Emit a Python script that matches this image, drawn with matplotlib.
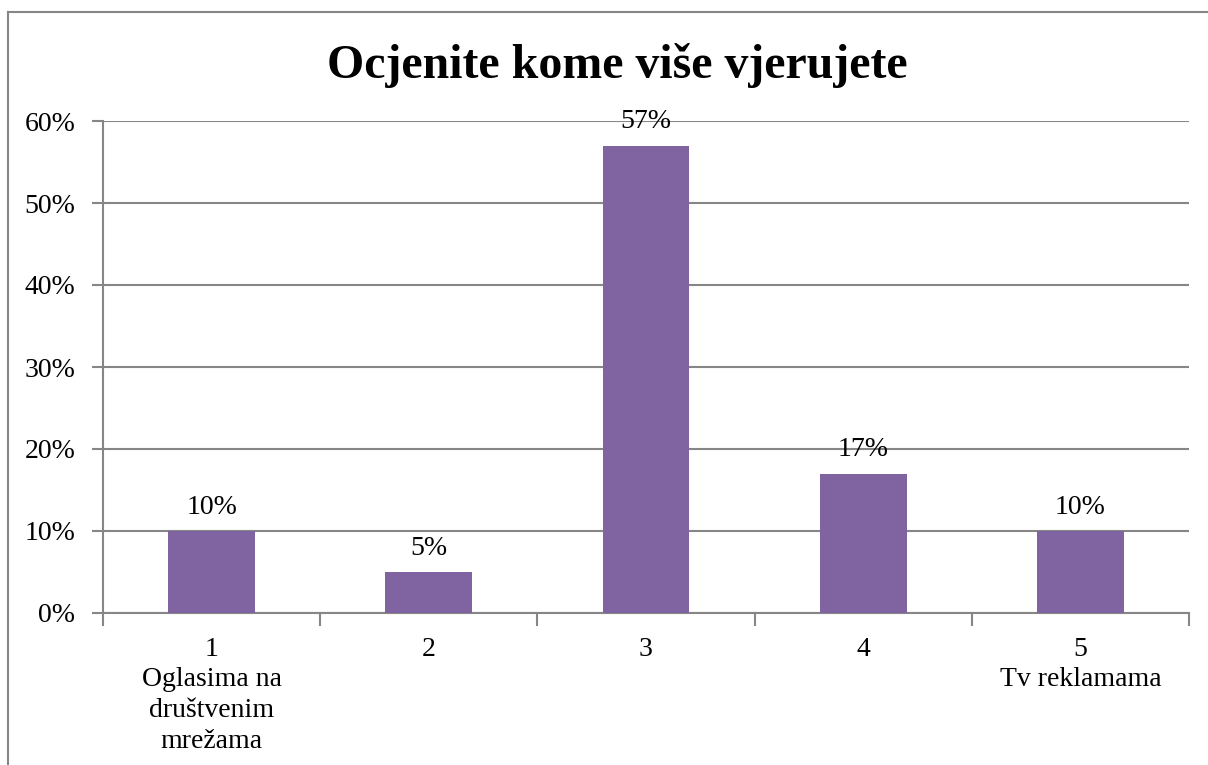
import matplotlib
matplotlib.use('Agg')
import matplotlib.pyplot as plt
from matplotlib.lines import Line2D
from matplotlib.ticker import FuncFormatter, FixedLocator

# --- podaci ---
categories = ["1\nOglasima na\ndruštvenim\nmrežama", "2", "3", "4", "5\nTv reklamama"]
values = [10, 5, 57, 17, 10]
value_labels = ["10%", "5%", "57%", "17%", "10%"]
title = "Ocjenite kome više vjerujete"

BAR_COLOR = "#8064A2"
GRID_COLOR = "#868686"
SERIF = ["Liberation Serif", "DejaVu Serif"]

fig = plt.figure(figsize=(12.08, 7.65), dpi=100)
ax = fig.add_axes([103 / 1208, 1 - 613 / 765, (1189 - 103) / 1208, (613 - 121) / 765])

x = list(range(len(values)))
ax.bar(x, values, width=0.4, color=BAR_COLOR, zorder=3)

ax.set_xlim(-0.5, len(values) - 0.5)
ax.set_ylim(0, 60)
ax.set_yticks(range(0, 61, 10))
ax.yaxis.set_major_formatter(FuncFormatter(lambda v, p: f"{int(v)}%"))
ax.yaxis.grid(True, color=GRID_COLOR, linewidth=1.5, zorder=0)

# kategorije - oznake u sredini, crtice na granicama
ax.set_xticks(x)
ax.set_xticklabels(categories, family=SERIF, fontsize=20, linespacing=1.3)
ax.tick_params(axis='x', length=0, pad=17)
ax.xaxis.set_minor_locator(FixedLocator([i - 0.5 for i in range(len(values) + 1)]))
ax.tick_params(axis='x', which='minor', length=9, width=1.5, color=GRID_COLOR)
ax.tick_params(axis='y', length=8, width=1.5, color=GRID_COLOR, pad=12)
for lab in ax.get_yticklabels():
    lab.set_family(SERIF)
    lab.set_fontsize(20)

for side in ['top', 'right']:
    ax.spines[side].set_visible(False)
for side in ['left', 'bottom']:
    ax.spines[side].set_color(GRID_COLOR)
    ax.spines[side].set_linewidth(1.5)

for xi, v, lab in zip(x, values, value_labels):
    ax.annotate(lab, (xi, v), xytext=(0, 17), textcoords='offset points',
                ha='center', va='center', family=SERIF, fontsize=20)

fig.text(617 / 1208, 1 - 66 / 765, title, ha='center', va='center',
         family=SERIF, fontsize=34.5, fontweight='bold')

# okvir grafikona (vidljivi lijevi i gornji rub)
fig.add_artist(Line2D([8 / 1208, 8 / 1208], [0, 1 - 12 / 765], color=GRID_COLOR, linewidth=1.5))
fig.add_artist(Line2D([8 / 1208, 1], [1 - 12 / 765, 1 - 12 / 765], color=GRID_COLOR, linewidth=1.5))

fig.savefig("out.png", dpi=100)
plt.close(fig)
